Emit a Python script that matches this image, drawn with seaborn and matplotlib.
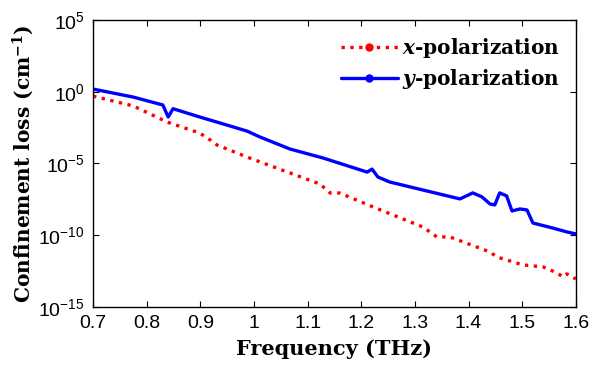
import numpy as np
import pandas as pd
import matplotlib
matplotlib.use('Agg')
import matplotlib.pyplot as plt
from matplotlib.lines import Line2D
from matplotlib.ticker import FixedLocator, LogFormatterSciNotation
import seaborn as sns

# values (log10 of loss in cm^-1)
freq_x = [0.700, 0.775, 0.838, 0.899, 0.924, 0.931, 0.987, 1.067, 1.123, 1.142, 1.160,
          1.222, 1.315, 1.341, 1.365, 1.440, 1.453, 1.501, 1.539, 1.565, 1.576, 1.583, 1.600]
logloss_x = [-0.30, -0.99, -2.11, -2.88, -3.50, -3.71, -4.55, -5.66, -6.43, -7.06, -7.06,
             -8.03, -9.43, -10.12, -10.12, -11.17, -11.52, -12.07, -12.21, -12.63, -12.91, -12.70, -13.05]

freq_y = [0.700, 0.775, 0.830, 0.840, 0.849, 0.899, 0.937, 0.987, 1.011, 1.067, 1.129,
          1.211, 1.220, 1.231, 1.253, 1.315, 1.384, 1.408, 1.425, 1.440, 1.449, 1.458,
          1.471, 1.481, 1.496, 1.509, 1.520, 1.557, 1.583, 1.600]
logloss_y = [0.19, -0.37, -0.92, -1.76, -1.18, -1.76, -2.18, -2.74, -3.15, -3.99, -4.62,
             -5.60, -5.39, -5.94, -6.29, -6.85, -7.47, -7.05, -7.33, -7.82, -7.89, -7.05,
             -7.26, -8.31, -8.17, -8.24, -9.15, -9.50, -9.77, -9.91]

df_x = pd.DataFrame({'f': freq_x, 'loss': 10.0 ** np.array(logloss_x)})
df_y = pd.DataFrame({'f': freq_y, 'loss': 10.0 ** np.array(logloss_y)})

sns.set_style('ticks')
plt.rcParams['font.family'] = ['Liberation Sans', 'DejaVu Sans']
plt.rcParams['mathtext.fontset'] = 'custom'
plt.rcParams['mathtext.rm'] = 'Liberation Sans'
plt.rcParams['mathtext.it'] = 'DejaVu Serif:italic:bold'
plt.rcParams['mathtext.bf'] = 'DejaVu Serif:bold'
for k in ['text.color', 'axes.labelcolor', 'xtick.color', 'ytick.color', 'axes.edgecolor']:
    plt.rcParams[k] = 'black'

fig = plt.figure(figsize=(5.93, 3.72), dpi=100)
ax = fig.add_axes([0.157, 0.175, 0.814, 0.771])

sns.lineplot(data=df_x, x='f', y='loss', ax=ax, color='#ff0000', linestyle=':', linewidth=2.4)
sns.lineplot(data=df_y, x='f', y='loss', ax=ax, color='#0000ff', linestyle='-', linewidth=2.4)

ax.set_yscale('log')
ax.set_xlim(0.7, 1.6)
ax.set_ylim(1e-15, 1e5)
ax.xaxis.set_major_locator(FixedLocator([0.7, 0.8, 0.9, 1.0, 1.1, 1.2, 1.3, 1.4, 1.5, 1.6]))
ax.set_xticklabels(['0.7', '0.8', '0.9', '1', '1.1', '1.2', '1.3', '1.4', '1.5', '1.6'])
ax.yaxis.set_major_locator(FixedLocator([1e-15, 1e-10, 1e-5, 1e0, 1e5]))
ax.yaxis.set_major_formatter(LogFormatterSciNotation())
ax.yaxis.set_minor_locator(FixedLocator([]))
ax.tick_params(direction='in', top=True, right=True, labelsize=14, length=4, width=0.8, pad=6)
for s in ax.spines.values():
    s.set_linewidth(1.0)
    s.set_color('black')

ax.set_xlabel('Frequency (THz)', family='DejaVu Serif', fontweight='bold', fontsize=15, labelpad=5)
ax.set_ylabel(r'Confinement loss (cm$^{\mathbf{-1}}$)', family='DejaVu Serif', fontweight='bold',
              fontsize=14.5, labelpad=2)

handles = [Line2D([], [], color='#ff0000', linestyle=':', linewidth=2.4, marker='o', markersize=5),
           Line2D([], [], color='#0000ff', linestyle='-', linewidth=2.4, marker='o', markersize=5)]
ax.legend(handles, [r'$x$-polarization', r'$y$-polarization'], loc='upper right', frameon=False,
          prop={'family': 'DejaVu Serif', 'weight': 'bold', 'size': 14.5}, handlelength=2.8,
          handletextpad=0.2, borderaxespad=0.4, labelspacing=0.35)

fig.savefig('out.png', dpi=100)
